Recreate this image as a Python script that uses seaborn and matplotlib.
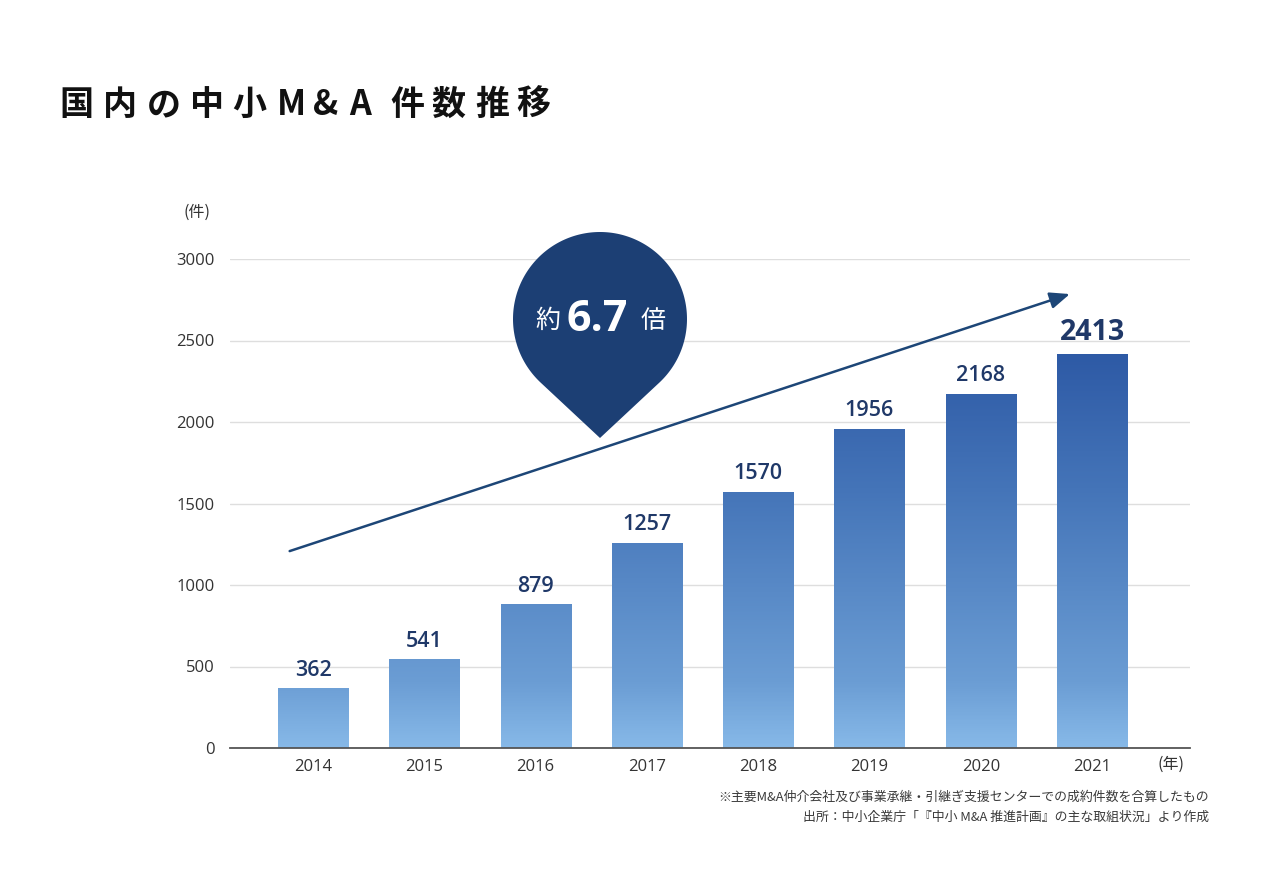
import numpy as np
import matplotlib
matplotlib.use("Agg")
import matplotlib.pyplot as plt
import seaborn as sns
from matplotlib.colors import LinearSegmentedColormap

# data
years = ["2014", "2015", "2016", "2017", "2018", "2019", "2020", "2021"]
counts = [362, 541, 879, 1257, 1570, 1956, 2168, 2413]
yticks = [0, 500, 1000, 1500, 2000, 2500, 3000]
title = "国内の中小M&A件数推移"
growth = "6.7"
notes = ["※主要M&A仲介会社及び事業承継・引継ぎ支援センターでの成約件数を合算したもの",
         "出所：中小企業庁「『中小 M&A 推進計画』の主な取組状況」より作成"]

sns.set_theme(style="white")
plt.rcParams['font.family'] = ['Noto Sans CJK JP', 'DejaVu Sans']
num_font = ['Open Sans', 'Noto Sans CJK JP']

W, H = 1280, 886
fig = plt.figure(figsize=(12.8, 8.86), dpi=100)
fig.patch.set_facecolor("white")
ax = fig.add_axes([230 / W, 138 / H, 960 / W, 489 / H])

sns.barplot(x=years, y=counts, color="#5b8fd0", width=0.63, saturation=1, ax=ax)

# vertical gradient on the bars
cmap = LinearSegmentedColormap.from_list(
    "bars", [(0, "#87b9e8"), (400 / 2450, "#6b9dd4"), (1600 / 2450, "#4474b8"), (1, "#2d59a5")])
for bar in ax.patches:
    x0, w, h = bar.get_x(), bar.get_width(), bar.get_height()
    ax.imshow(np.linspace(0, h, 256).reshape(-1, 1), cmap=cmap, vmin=0, vmax=2450,
              extent=[x0, x0 + w, 0, h], origin="lower", aspect="auto", zorder=2)
    bar.set_visible(False)

ax.set_xlim(-0.746, 7.88)
ax.set_ylim(0, 3000)
ax.set_yticks(yticks)
ax.yaxis.grid(True, color="#dedede", lw=1)
ax.xaxis.grid(False)
ax.set_axisbelow(True)
for s in ["left", "top", "right"]:
    ax.spines[s].set_visible(False)
ax.spines["bottom"].set_color("#555555")
ax.spines["bottom"].set_linewidth(1.3)
ax.spines["bottom"].set_zorder(3)
ax.tick_params(axis="y", length=0, pad=11, labelsize=12, labelcolor="#333333")
ax.tick_params(axis="x", length=0, pad=8, labelsize=12, labelcolor="#333333")
for lab in ax.get_xticklabels() + ax.get_yticklabels():
    lab.set_family(num_font)
ax.set_xlabel("")
ax.set_ylabel("")

# value labels
for i, v in enumerate(counts):
    last = i == len(counts) - 1
    ax.text(i, v + 50, f"{v}", ha="center", va="bottom", fontsize=20.5 if last else 15.5,
            fontweight="bold" if last else "semibold", family=num_font,
            color="#1f3868", zorder=4)

# trend arrow
ax.annotate("", xy=(6.80, 2785), xytext=(-0.21, 1208),
            arrowprops=dict(arrowstyle="-|>,head_length=0.6,head_width=0.25", color="#1d4677",
                            lw=1.8, mutation_scale=20, shrinkA=0, shrinkB=0), zorder=4)

# overlay in pixel coordinates for the pin and texts
ov = fig.add_axes([0, 0, 1, 1], zorder=5)
ov.set_xlim(0, W)
ov.set_ylim(H, 0)
ov.axis("off")
ov.patch.set_alpha(0)

cx, cy, r, tip = 600, 319, 87, 438
a = np.arccos(r / (tip - cy))
phi = np.linspace(a, 2 * np.pi - a, 200)
px = list(cx + r * np.sin(phi)) + [cx]
py = list(cy + r * np.cos(phi)) + [tip]
ov.fill(px, py, color="#1c3f74", lw=0)
ov.text(548, 328, "約", ha="center", va="baseline", fontsize=18, color="white")
ov.text(597, 331, growth, ha="center", va="baseline", fontsize=31, fontweight="bold",
        family=num_font, color="white")
ov.text(653, 328, "倍", ha="center", va="baseline", fontsize=18, color="white")

# title with wide letter spacing
offs = [0, 90, 180, 270, 357, 444, 514, 584, 682, 767, 857, 942]
for ch, o in zip(title, offs):
    ov.text(76.5 + o * 0.485, 115, ch, ha="center", va="baseline", fontsize=24.5,
            fontweight="bold", color="#111111")

ov.text(197, 217, "(件)", ha="center", va="baseline", fontsize=11.5, color="#333333")
ov.text(1171, 769, "(年)", ha="center", va="baseline", fontsize=11.5, color="#333333")
ov.text(1209, 801, notes[0], ha="right", va="baseline", fontsize=9.3, color="#3a3a3a")
ov.text(1209, 821, notes[1], ha="right", va="baseline", fontsize=9.3, color="#3a3a3a")

fig.savefig("out.png", dpi=100)
